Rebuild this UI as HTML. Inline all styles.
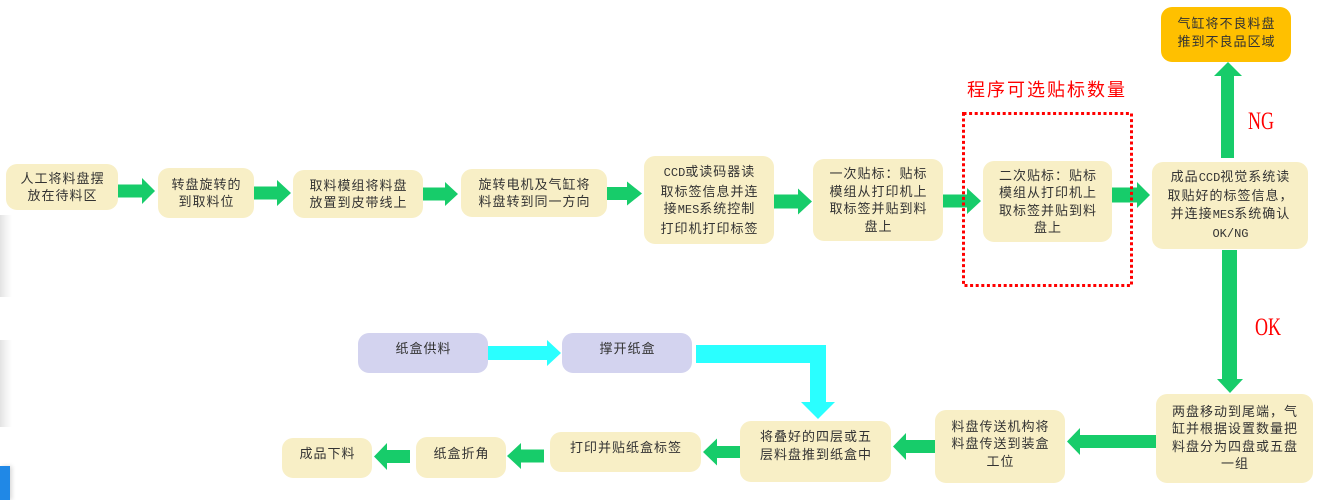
<!DOCTYPE html>
<html><head><meta charset="utf-8">
<style>
html,body{margin:0;padding:0;background:#fff;}
body{width:1332px;height:500px;position:relative;overflow:hidden;font-family:"Liberation Sans","Noto Sans CJK SC",sans-serif;}
.b{position:absolute;box-sizing:border-box;background:#F8EFC6;border-radius:11px;display:flex;align-items:center;justify-content:center;text-align:center;color:#333;font-size:13px;letter-spacing:1px;line-height:17.5px;padding-left:1px;font-family:"Liberation Sans","Noto Sans CJK SC",sans-serif;}
.o{background:#FFC000;}
.l{background:#D3D3EF;}
.m{font-family:"Liberation Mono",monospace;font-size:12px;letter-spacing:0;}
svg{position:absolute;left:0;top:0;}
.red{position:absolute;color:#f00;font-family:"Liberation Sans","Noto Sans CJK SC",sans-serif;font-size:18px;letter-spacing:2px;line-height:20px;white-space:nowrap;}
.ser{position:absolute;color:#f00;font-family:"Liberation Serif",serif;font-size:25px;line-height:25px;transform:scaleX(0.72);transform-origin:left top;white-space:nowrap;}
.sh{position:absolute;left:0;width:12px;background:linear-gradient(to right,#e3e3e3,#f3f3f3 50%,#fff);}
</style></head><body>

<div class="sh" style="top:215px;height:82px;"></div>
<div class="sh" style="top:340px;height:87px;"></div>
<div style="position:absolute;left:0;top:466px;width:10px;height:34px;background:#2088E6;box-shadow:2px 0 4px rgba(0,0,0,0.15);"></div>

<svg width="1332" height="500" viewBox="0 0 1332 500">
<g fill="#17CC6A">
<polygon points="118,184.5 142,184.5 142,178 155,191 142,204 142,197.5 118,197.5"/>
<polygon points="254,186.5 277,186.5 277,180 291,193 277,206 277,199.5 254,199.5"/>
<polygon points="423,187.5 445,187.5 445,182 458,194 445,206 445,200.5 423,200.5"/>
<polygon points="607,187 627,187 627,181.5 642,193.5 627,205.5 627,200 607,200"/>
<polygon points="774,194.5 798,194.5 798,188.5 812,201.5 798,214.5 798,208.5 774,208.5"/>
<polygon points="943,194.5 967,194.5 967,188 981,201 967,214 967,207.5 943,207.5"/>
<polygon points="1112,187.5 1137,187.5 1137,182 1150,195 1137,208 1137,202.5 1112,202.5"/>
<polygon points="1221,158 1221,76 1214,76 1228,62 1242,76 1234,76 1234,158"/>
<polygon points="1222,250 1222,379 1217,379 1230,393 1243,379 1237,379 1237,250"/>
<polygon points="1156,435 1080,435 1080,428 1067,441.5 1080,455 1080,448 1156,448"/>
<polygon points="935,440 906,440 906,433 893,446.5 906,460 906,453 935,453"/>
<polygon points="740,446 717,446 717,438.5 703,452 717,465.5 717,458 740,458"/>
<polygon points="544,449.5 521,449.5 521,443 507,456 521,469 521,462.5 544,462.5"/>
<polygon points="410,450 387,450 387,443 374,456.5 387,470 387,463 410,463"/>
</g>
<g fill="#2AFFFF">
<polygon points="488,346 547,346 547,340 561,353 547,366 547,360 488,360"/>
<polygon points="696,345 826,345 826,402 835,402 818,419 801,402 810,402 810,363 696,363"/>
</g>
<rect x="963.5" y="113.5" width="168" height="172" fill="none" stroke="#f00" stroke-width="3" stroke-dasharray="3 2.6"/>
</svg>

<div class="b" style="left:6px;top:164px;width:112px;height:46px;">人工将料盘摆<br>放在待料区</div>
<div class="b" style="left:158px;top:168px;width:96px;height:50px;">转盘旋转的<br>到取料位</div>
<div class="b" style="left:293px;top:170px;width:130px;height:48px;">取料模组将料盘<br>放置到皮带线上</div>
<div class="b" style="left:461px;top:169px;width:146px;height:48px;">旋转电机及气缸将<br>料盘转到同一方向</div>
<div class="b" style="left:644px;top:156px;width:130px;height:88px;"><div><span class="m">CCD</span>或读码器读<br>取标签信息并连<br>接<span class="m">MES</span>系统控制<br>打印机打印标签</div></div>
<div class="b" style="left:813px;top:159px;width:130px;height:82px;">一次贴标：贴标<br>模组从打印机上<br>取标签并贴到料<br>盘上</div>
<div class="b" style="left:983px;top:161px;width:129px;height:81px;">二次贴标：贴标<br>模组从打印机上<br>取标签并贴到料<br>盘上</div>
<div class="b" style="left:1152px;top:162px;width:156px;height:87px;"><div>成品<span class="m">CCD</span>视觉系统读<br>取贴好的标签信息，<br>并连接<span class="m">MES</span>系统确认<br><span class="m">OK/NG</span></div></div>
<div class="b o" style="left:1161px;top:7px;width:130px;height:55px;padding-bottom:4px;">气缸将不良料盘<br>推到不良品区域</div>
<div class="b" style="left:1156px;top:394px;width:157px;height:89px;padding-bottom:2px;">两盘移动到尾端，气<br>缸并根据设置数量把<br>料盘分为四盘或五盘<br>一组</div>
<div class="b" style="left:935px;top:410px;width:130px;height:73px;padding-bottom:5px;">料盘传送机构将<br>料盘传送到装盒<br>工位</div>
<div class="b" style="left:740px;top:421px;width:151px;height:61px;padding-bottom:12px;">将叠好的四层或五<br>层料盘推到纸盒中</div>
<div class="b" style="left:550px;top:432px;width:151px;height:40px;padding-bottom:8px;">打印并贴纸盒标签</div>
<div class="b" style="left:416px;top:437px;width:90px;height:41px;padding-bottom:8px;">纸盒折角</div>
<div class="b" style="left:282px;top:438px;width:90px;height:40px;padding-bottom:8px;">成品下料</div>
<div class="b l" style="left:358px;top:333px;width:130px;height:40px;padding-bottom:8px;">纸盒供料</div>
<div class="b l" style="left:562px;top:333px;width:130px;height:40px;padding-bottom:8px;">撑开纸盒</div>

<div class="red" style="left:967px;top:80px;">程序可选贴标数量</div>
<div class="ser" style="left:1248px;top:109px;">NG</div>
<div class="ser" style="left:1255px;top:315px;">OK</div>

</body></html>
